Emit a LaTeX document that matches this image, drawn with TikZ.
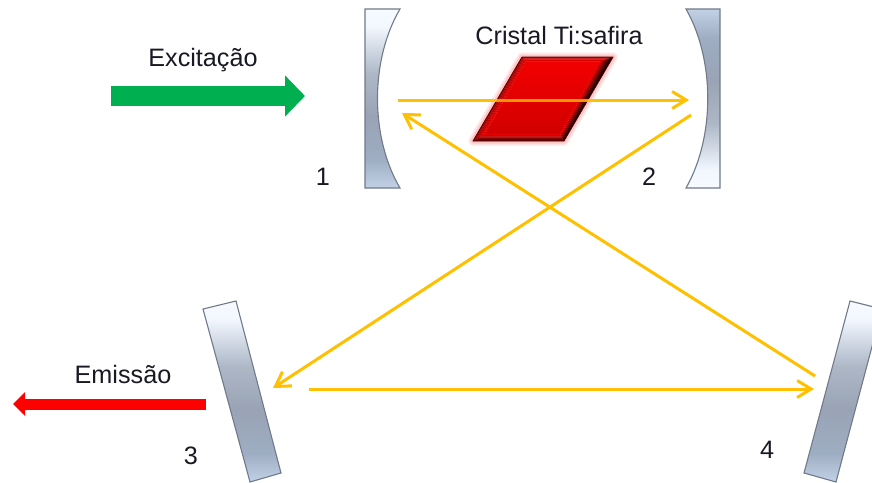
\documentclass[tikz,border=0pt]{standalone}
\usepackage{fontspec}
\setmainfont{Liberation Sans}
\usetikzlibrary{arrows.meta, calc}
\definecolor{beamcol}{RGB}{255,192,0}
\definecolor{beamdark}{RGB}{245,150,0}
\definecolor{pumpcol}{RGB}{0,176,80}
\definecolor{edgecol}{RGB}{112,122,138}
\definecolor{txtcol}{RGB}{25,25,35}
\pgfdeclareverticalshading{mirrorgrad}{100bp}{
  rgb(0bp)=(0.76,0.82,0.90);
  rgb(25bp)=(0.76,0.82,0.90);
  rgb(33bp)=(0.62,0.68,0.76);
  rgb(45bp)=(0.60,0.64,0.71);
  rgb(57bp)=(0.68,0.72,0.78);
  rgb(70bp)=(0.95,0.97,1);
  rgb(75bp)=(0.97,0.98,1);
  rgb(100bp)=(0.97,0.98,1)}
% strips between an outer and an inner edge, from dark to red
\newcommand{\bevelside}[5]{%
  \foreach \i in {0,...,7}{
    \pgfmathsetmacro{\tA}{\i/8}
    \pgfmathsetmacro{\tB}{(\i+1.2)/8}
    \pgfmathsetmacro{\mixv}{#5*(1-\i/7)+9}
    \fill[black!\mixv!red] ($(#1)!\tA!(#3)$) -- ($(#2)!\tA!(#4)$)
       -- ($(#2)!\tB!(#4)$) -- ($(#1)!\tB!(#3)$) -- cycle;
  }}

\begin{document}
\begin{tikzpicture}[
  x=1pt, y=-1pt,
  mirror/.style  = {shade, shading=mirrorgrad, draw=edgecol, line width=1.1pt},
  beam/.style    = {draw=beamcol, line width=3pt},
  ray/.style     = {beam, -{Straight Barb[length=14pt,width=17pt,line width=3pt]}},
  pump/.style    = {line width=20pt, draw=pumpcol,
                    -{Triangle[length=20pt,width=40pt]}},
  emis/.style    = {line width=11pt, draw=red,
                    -{Triangle[length=12pt,width=23pt]}},
  lbl/.style     = {font=\fontsize{25.2}{27}\selectfont, text=txtcol, inner sep=0pt},
]
\path[use as bounding box, clip] (0,0) rectangle (872,482);
\fill[white] (0,0) rectangle (872,482);

% ---------- mirrors ----------
\path[mirror] (365,9) -- (400,9) .. controls (370,60) and (370,137) .. (400,188) -- (365,188) -- cycle;
\path[mirror, shading angle=180] (720,9) -- (686,9) .. controls (715,60) and (715,137) .. (686,188) -- (720,188) -- cycle;
\path[mirror] (203,309) -- (236,301) -- (281,473) -- (250,482) -- cycle;
\path[mirror] (850,301) -- (882,309) -- (836,482) -- (804,473) -- cycle;

% ---------- crystal ----------
\coordinate (CrTL) at (522,57);
\coordinate (CrTR) at (613,57);
\coordinate (CrBR) at (564,141);
\coordinate (CrBL) at (473,141);
\coordinate (InTL) at (526,62);
\coordinate (InTR) at (599,62);
\coordinate (InBR) at (560,134);
\coordinate (InBL) at (485,134);
\path[draw=red!40, fill=red!40, opacity=0.25, line join=round, line width=9pt]
  (CrTL) -- (CrTR) -- (CrBR) -- (CrBL) -- cycle;
\path[draw=red!40, opacity=0.4, line join=round, line width=5pt]
  (CrTL) -- (CrTR) -- (CrBR) -- (CrBL) -- cycle;
\shade[top color=red!95!black, bottom color=red!82!black]
  (InTL) -- (InTR) -- (InBR) -- (InBL) -- cycle;
\bevelside{CrTL}{CrTR}{InTL}{InTR}{20}
\bevelside{CrBL}{CrTL}{InBL}{InTL}{30}
\bevelside{CrBR}{CrBL}{InBR}{InBL}{60}
\bevelside{CrTR}{CrBR}{InTR}{InBR}{90}
\draw[black!65!red, line width=0.8pt, line join=round]
  (CrTL) -- (CrTR) -- (CrBR) -- (CrBL) -- cycle;

% ---------- beam end points ----------
\coordinate (M1out) at (398,100);
\coordinate (M2in)  at (689,100);
\coordinate (M2out) at (691,115);
\coordinate (M3in)  at (273,388);
\coordinate (M3out) at (309,389);
\coordinate (M4in)  at (814,389);
\coordinate (M4out) at (815,376);
\coordinate (M1in)  at (402,113);
\coordinate (PumpA) at (111,96);
\coordinate (PumpB) at (305,96);
\coordinate (EmisA) at (206,404);
\coordinate (EmisB) at (13,404);

\draw[ray] (M1out) -- (M2in);
\draw[ray] (M2out) -- (M3in);
\draw[ray] (M3out) -- (M4in);
\draw[ray] (M4out) -- (M1in);
\draw[pump] (PumpA) -- (PumpB);
\draw[emis] (EmisA) -- (EmisB);

% beam seen through the crystal
\begin{scope}
  \clip (CrTL) -- (CrTR) -- (CrBR) -- (CrBL) -- cycle;
  \draw[draw=beamdark, line width=3pt] (M1out) -- (M2in);
\end{scope}

% ---------- labels ----------
\node[lbl] (Lexc) at (203,60)  {Excitação};
\node[lbl] (Lcri) at (559,35)  {Cristal Ti:safira};
\node[lbl] (Lemi) at (123,374) {Emissão};
\node[lbl] (Lm1)  at (323,177) {1};
\node[lbl] (Lm2)  at (649,177) {2};
\node[lbl] (Lm3)  at (191,456) {3};
\node[lbl] (Lm4)  at (767,450) {4};
\end{tikzpicture}
\end{document}
